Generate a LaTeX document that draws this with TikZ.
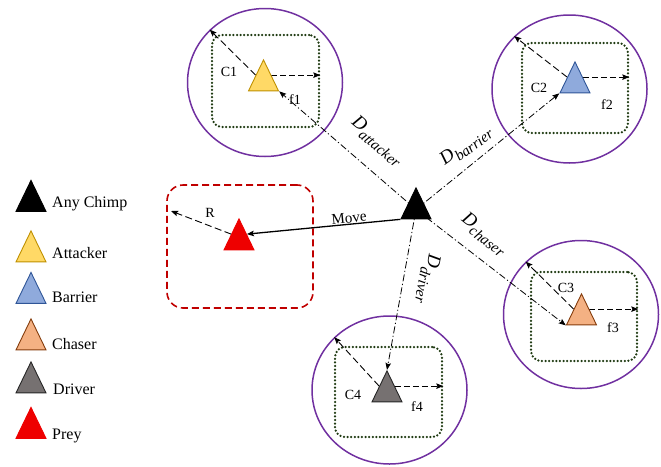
\documentclass[tikz,border=0pt]{standalone}
\usepackage{fontspec}
\setmainfont{Liberation Serif}
\usetikzlibrary{shapes.geometric,arrows.meta,calc}
\definecolor{attF}{HTML}{FFD966}\definecolor{attD}{HTML}{BF9000}
\definecolor{barF}{HTML}{8FAADC}\definecolor{barD}{HTML}{2F5597}
\definecolor{chaF}{HTML}{F4B183}\definecolor{chaD}{HTML}{843C0C}
\definecolor{driF}{HTML}{767171}\definecolor{driD}{HTML}{262626}
\definecolor{preyR}{HTML}{EE0000}
\definecolor{zoneP}{HTML}{7030A0}
\definecolor{boxG}{HTML}{1F3A12}
\definecolor{boxR}{HTML}{C00000}
\pgfdeclarelayer{back}\pgfdeclarelayer{mid}
\pgfsetlayers{back,mid,main}
\newcommand\dlabel[1]{\fontsize{19}{20}\selectfont\textit{D}\raisebox{-0.3em}{\fontsize{15}{16}\selectfont\textit{#1}}}
\tikzset{
  tri/.style={isosceles triangle, isosceles triangle apex angle=52, shape border rotate=90,
    isosceles triangle stretches, minimum width=30pt, minimum height=31pt, inner sep=0pt, line width=0.9pt},
  zone/.style={ellipse, draw=zoneP, line width=1.5pt, minimum width=155pt, minimum height=148pt, inner sep=0pt},
  fbox/.style={rectangle, rounded corners=10pt, draw=boxG, line width=2.5pt, dash pattern=on 0pt off 3.6pt, line cap=round, inner sep=0pt},
  pbox/.style={rectangle, rounded corners=16pt, draw=boxR, line width=1.6pt, dash pattern=on 7pt off 4pt, inner sep=0pt},
  tip/.style={-{Stealth[length=7pt,width=5.5pt,inset=1.2pt]}},
  dline/.style={tip, line width=0.8pt, dash pattern=on 7pt off 2.5pt on 1.2pt off 2.5pt},
  cline/.style={tip, line width=0.9pt, dash pattern=on 7pt off 3.5pt},
  fline/.style={tip, line width=0.9pt, dash pattern=on 6pt off 3pt},
  small/.style={font=\fontsize{14}{16}\selectfont, inner sep=0pt},
  leg/.style={font=\fontsize{16}{18}\selectfont, anchor=west, inner sep=0pt},
  dlab/.style={inner sep=0pt},
}
\begin{document}
\begin{tikzpicture}[x=1pt,y=-1pt]
\useasboundingbox (0,0) rectangle (661,466);
\begin{pgfonlayer}{back}
\node[zone] (e1) at (265,82.5) {};
\node[zone] (e2) at (569.5,89) {};
\node[zone] (e3) at (581,314.5) {};
\node[zone] (e4) at (389.5,390) {};
\node[fbox, minimum width=107pt, minimum height=92pt] (b1) at (265.5,81) {};
\node[fbox, minimum width=106pt, minimum height=90pt] (b2) at (575,88) {};
\node[fbox, minimum width=106pt, minimum height=89pt] (b3) at (584,316.5) {};
\node[fbox, minimum width=107pt, minimum height=90pt] (b4) at (388.5,392) {};
\node[pbox, minimum width=146pt, minimum height=123pt] (pb) at (240,246.5) {};
\end{pgfonlayer}
% triangles
\node[tri, fill=black, draw=black] (blk) at (416,209.5) {};
\node[tri, fill=preyR, draw=preyR] (prey) at (239,240.5) {};
\node[tri, fill=attF, draw=attD] (t1) at (263.5,81.5) {};
\node[tri, fill=barF, draw=barD] (t2) at (575,83.5) {};
\node[tri, fill=chaF, draw=chaD] (t3) at (581.5,315.5) {};
\node[tri, fill=driF, draw=driD] (t4) at (387,392.5) {};
% legend
\node[tri, fill=black, draw=black] (l0) at (31,202) {};
\node[tri, fill=attF, draw=attD] (l1) at (31,252.5) {};
\node[tri, fill=barF, draw=barD] (l2) at (31,294) {};
\node[tri, fill=chaF, draw=chaD] (l3) at (31,340.5) {};
\node[tri, fill=driF, draw=driD] (l4) at (31,383.5) {};
\node[tri, fill=preyR, draw=preyR] (l5) at (31,429) {};
\node[leg] (n0) at (52,204) {Any Chimp};
\node[leg] (n1) at (52,253) {Attacker};
\node[leg] (n2) at (52,297) {Barrier};
\node[leg] (n3) at (52,344) {Chaser};
\node[leg] (n4) at (53,389) {Driver};
\node[leg] (n5) at (52,436) {Prey};
\coordinate (rtip) at (171,211);
\begin{pgfonlayer}{mid}
% D lines
\draw[dline] (blk.center) -- (t1.right corner);
\draw[dline] (blk.center) -- (t2.left corner);
\draw[dline] (blk.center) -- (t3.left corner);
\draw[dline] (blk.center) -- (t4.apex);
% C and f arrows
\foreach \i in {1,2,3,4}{
  \draw[cline] (t\i.left side) -- (e\i.north west);
  \draw[fline] (t\i.right side) -- (t\i.right side -| b\i.east);
}
\draw[tip, line width=1.3pt] (blk.left corner) -- (prey.right side);
\draw[cline] (prey.left side) -- (rtip);
\end{pgfonlayer}
% labels
\node[small] (c1) at (229,72) {C1};
\node[small] (f1) at (295,100) {f1};
\node[small] (c2) at (539,88) {C2};
\node[small] (f2) at (607,105) {f2};
\node[small] (c3) at (566,288) {C3};
\node[small] (f3) at (613,328) {f3};
\node[small] (c4) at (353,395) {C4};
\node[small] (f4) at (417,407) {f4};
\node[small] (r) at (210,213) {R};
\node[font=\fontsize{15}{17}\selectfont, inner sep=0pt, rotate=6] (mv) at (349,218) {Move};
\node[dlab, rotate=-40] (da) at (377,141) {\dlabel{attacker}};
\node[dlab, rotate=36] (db) at (466,146) {\dlabel{barrier}};
\node[dlab, rotate=-38] (dc) at (484,234) {\dlabel{chaser}};
\node[dlab, rotate=-100] (dd) at (428,279) {\dlabel{driver}};
\end{tikzpicture}
\end{document}
